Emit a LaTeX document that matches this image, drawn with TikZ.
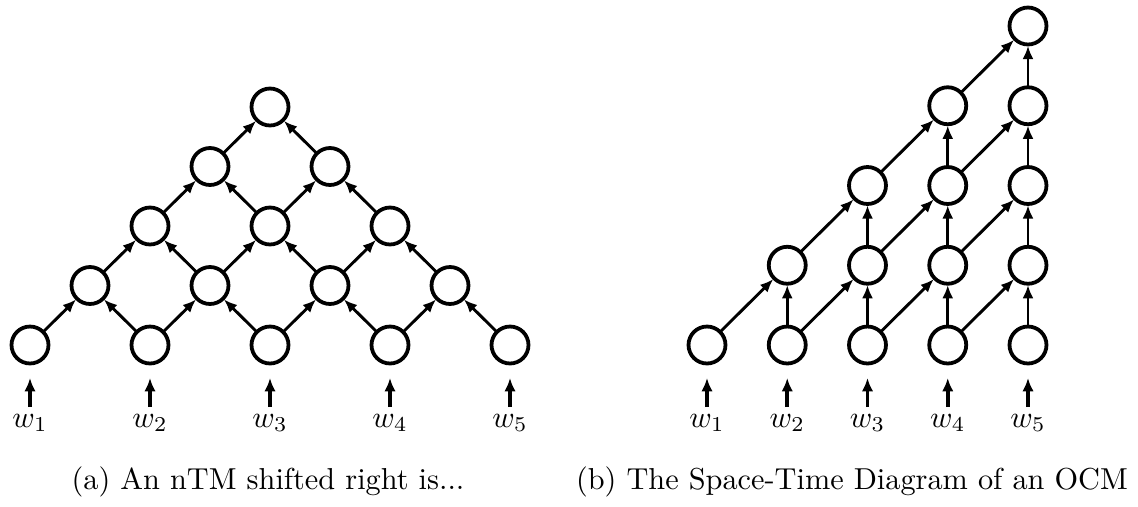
\documentclass[tikz,border=0pt]{standalone}
\usetikzlibrary{arrows.meta}
\begin{document}
\begin{tikzpicture}[x=0.33pt,y=-0.33pt,
  cell/.style={circle,draw,line width=1.25pt,minimum size=12.2pt,inner sep=0pt,outer sep=0.4pt},
  link/.style={line width=0.95pt,-{Latex[length=4.4pt,width=3.6pt]}},
  feed/.style={line width=1.25pt,-{Latex[length=4.4pt,width=3.8pt]}},
  lab/.style={anchor=base,inner sep=0pt}]
\useasboundingbox (0,0) rectangle (1138,506);
% left triangle
\foreach \r in {0,...,4}{
  \pgfmathtruncatemacro\n{4-\r}
  \foreach \i in {0,...,\n}{
    \node[cell] (L-\r-\i) at ({30+60*\r+120*\i},{345-59.5*\r}) {};
  }}
\foreach \r in {0,...,3}{
  \pgfmathtruncatemacro\rr{\r+1}
  \pgfmathtruncatemacro\n{3-\r}
  \foreach \j in {0,...,\n}{
    \pgfmathtruncatemacro\jj{\j+1}
    \draw[link] (L-\r-\j) -- (L-\rr-\j);
    \draw[link] (L-\r-\jj) -- (L-\rr-\j);
  }}
% right diagram
\foreach \c in {0,...,4}{
  \foreach \r in {0,...,\c}{
    \node[cell] (R-\c-\r) at ({707+80.25*\c},{345-79.75*\r}) {};
  }}
\foreach \c in {1,...,4}{
  \pgfmathtruncatemacro\m{\c-1}
  \foreach \r in {0,...,\m}{
    \pgfmathtruncatemacro\rr{\r+1}
    \draw[link] (R-\c-\r) -- (R-\c-\rr);
  }}
\foreach \c in {0,...,3}{
  \pgfmathtruncatemacro\cc{\c+1}
  \foreach \r in {0,...,\c}{
    \pgfmathtruncatemacro\rr{\r+1}
    \draw[link] (R-\c-\r) -- (R-\cc-\rr);
  }}
% inputs
\foreach \i in {1,...,5}{
  \pgfmathsetmacro\xa{30+120*(\i-1)}
  \coordinate (LA-\i) at (\xa,407);
  \coordinate (LB-\i) at (\xa,378);
  \draw[feed] (LA-\i) -- (LB-\i);
  \node[lab] (LW-\i) at (\xa,427) {$w_{\i}$};
  \pgfmathsetmacro\xb{707+80.25*(\i-1)}
  \coordinate (RA-\i) at (\xb,407);
  \coordinate (RB-\i) at (\xb,378);
  \draw[feed] (RA-\i) -- (RB-\i);
  \node[lab] (RW-\i) at (\xb,427) {$w_{\i}$};
}
% captions
\node[lab] (capa) at (268,489) {(a) An nTM shifted right is...};
\node[lab] (capb) at (852,489) {(b) The Space-Time Diagram of an OCM};
\end{tikzpicture}
\end{document}
